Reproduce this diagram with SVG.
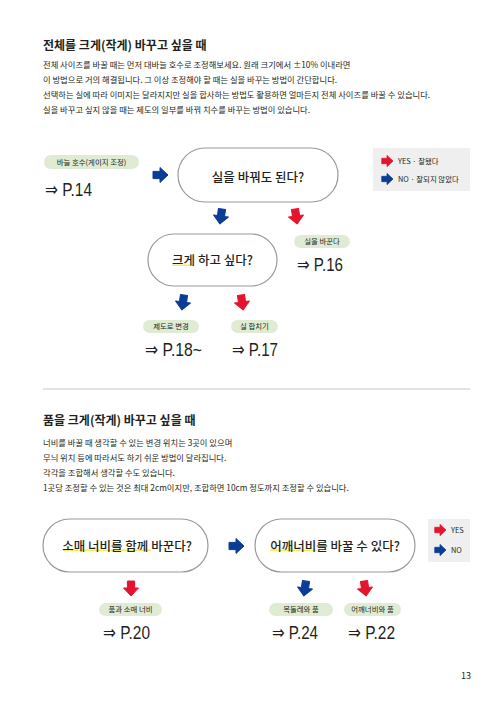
<svg xmlns="http://www.w3.org/2000/svg" width="500" height="706" viewBox="0 0 500 706">
<style>
text{font-family:"Noto Sans CJK KR","Noto Sans",sans-serif;fill:#231f20}
.h{font-size:12px;font-weight:700}
.b{font-size:8.3px}
.node rect.box{fill:#fff;stroke:#9a9a9a;stroke-width:1.2}
.q{font-size:12.5px;font-weight:500;text-anchor:middle}
.pill rect{fill:#dfecd3}
.pill text{font-size:7.4px;text-anchor:middle}
.ref{font-family:"Liberation Sans Narrow","Liberation Sans","DejaVu Sans",sans-serif;font-size:19px}
.lg{font-size:7.4px}
.hl{fill:#f6ec5a}
.red{fill:#e5142e;stroke:#e5142e;stroke-width:1;stroke-linejoin:round}
.blue{fill:#0b3c96;stroke:#0b3c96;stroke-width:1;stroke-linejoin:round}
</style>
<defs>
<path id="ar" d="M-7,-3.6 H0 V-7.5 L8,0 L0,7.5 V3.6 H-7 Z"/>
</defs>
<rect width="500" height="706" fill="#fff"/>

<g id="section1-text">
<text class="h" x="43" y="50">전체를 크게(작게) 바꾸고 싶을 때</text>
<text class="b" x="43" y="68">전체 사이즈를 바꿀 때는 먼저 대바늘 호수로 조정해보세요. 원래 크기에서 ±10% 이내라면</text>
<text class="b" x="43" y="83">이 방법으로 거의 해결됩니다. 그 이상 조정해야 할 때는 실을 바꾸는 방법이 간단합니다.</text>
<text class="b" x="43" y="98">선택하는 실에 따라 이미지는 달라지지만 실을 합사하는 방법도 활용하면 얼마든지 전체 사이즈를 바꿀 수 있습니다.</text>
<text class="b" x="43" y="113">실을 바꾸고 싶지 않을 때는 제도의 일부를 바꿔 치수를 바꾸는 방법이 있습니다.</text>
</g>

<g id="legend1">
<rect x="373" y="148" width="97" height="43" fill="#efefef"/>
<use href="#ar" class="red" transform="translate(387,161) scale(0.75)"/>
<text class="lg" x="398" y="163.5">YES · 잘됐다</text>
<use href="#ar" class="blue" transform="translate(387,179) scale(0.75)"/>
<text class="lg" x="398" y="181.5">NO · 잘되지 않았다</text>
</g>

<g id="n-gauge">
<g class="pill"><rect x="44" y="155" width="95" height="14" rx="7"/><text x="91.5" y="164.7">바늘 호수(게이지 조정)</text></g>
<text class="ref" x="45" y="196" textLength="47" lengthAdjust="spacingAndGlyphs">⇒ P.14</text>
</g>

<g id="n-q1" class="node">
<rect class="box" x="178" y="148" width="160" height="54" rx="27"/>
<rect class="hl" x="213" y="181" width="9" height="1.5"/>
<text class="q" x="258" y="181.5">실을 바꿔도 된다?</text>
</g>

<g id="n-yarn">
<g class="pill"><rect x="294" y="235" width="56" height="13" rx="6.5"/><text x="322" y="244.3">실을 바꾼다</text></g>
<text class="ref" x="297" y="271" textLength="46" lengthAdjust="spacingAndGlyphs">⇒ P.16</text>
</g>

<g id="n-q2" class="node">
<rect class="box" x="148" y="234" width="129" height="52" rx="26"/>
<rect class="hl" x="172" y="264.5" width="22" height="1.5"/>
<text class="q" x="212.5" y="265">크게 하고 싶다?</text>
</g>

<g id="n-draft">
<g class="pill"><rect x="143" y="320" width="56" height="13" rx="6.5"/><text x="171" y="329.3">제도로 변경</text></g>
<text class="ref" x="145" y="356" textLength="57" lengthAdjust="spacingAndGlyphs">⇒ P.18~</text>
</g>

<g id="n-ply">
<g class="pill"><rect x="231" y="320" width="47" height="13" rx="6.5"/><text x="254.5" y="329.3">실 합치기</text></g>
<text class="ref" x="232" y="356" textLength="46" lengthAdjust="spacingAndGlyphs">⇒ P.17</text>
</g>

<line x1="43" y1="389" x2="470" y2="389" stroke="#c8c8c8" stroke-width="1.2"/>

<g id="section2-text">
<text class="h" x="43" y="425">품을 크게(작게) 바꾸고 싶을 때</text>
<text class="b" x="43" y="446">너비를 바꿀 때 생각할 수 있는 변경 위치는 3곳이 있으며</text>
<text class="b" x="43" y="461">무늬 위치 등에 따라서도 하기 쉬운 방법이 달라집니다.</text>
<text class="b" x="43" y="476">각각을 조합해서 생각할 수도 있습니다.</text>
<text class="b" x="43" y="491">1곳당 조정할 수 있는 것은 최대 2cm이지만, 조합하면 10cm 정도까지 조정할 수 있습니다.</text>
</g>

<g id="legend2">
<rect x="428" y="519" width="42" height="43" fill="#efefef"/>
<use href="#ar" class="red" transform="translate(440,530) scale(0.75)"/>
<text class="lg" x="451" y="532.5">YES</text>
<use href="#ar" class="blue" transform="translate(440,550) scale(0.75)"/>
<text class="lg" x="451" y="552.5">NO</text>
</g>

<g id="n-q3" class="node">
<rect class="box" x="43" y="519" width="165" height="53" rx="26.5"/>
<rect class="hl" x="63" y="549.5" width="88" height="1.5"/>
<text class="q" x="127" y="550.5">소매 너비를 함께 바꾼다?</text>
</g>

<g id="n-q4" class="node">
<rect class="box" x="255" y="519" width="160" height="53" rx="26.5"/>
<rect class="hl" x="270" y="549.5" width="46" height="1.5"/>
<text class="q" x="335" y="550.5">어깨너비를 바꿀 수 있다?</text>
</g>

<g id="n-sleeve">
<g class="pill"><rect x="99" y="603" width="63" height="13" rx="6.5"/><text x="130.5" y="612.3">품과 소매 너비</text></g>
<text class="ref" x="103" y="639" textLength="47" lengthAdjust="spacingAndGlyphs">⇒ P.20</text>
</g>

<g id="n-neck">
<g class="pill"><rect x="269" y="603" width="64" height="13" rx="6.5"/><text x="301" y="612.3">목둘레와 품</text></g>
<text class="ref" x="272" y="639" textLength="46" lengthAdjust="spacingAndGlyphs">⇒ P.24</text>
</g>

<g id="n-shoulder">
<g class="pill"><rect x="344" y="603" width="57" height="13" rx="6.5"/><text x="372.5" y="612.3">어깨너비와 품</text></g>
<text class="ref" x="348" y="639" textLength="47" lengthAdjust="spacingAndGlyphs">⇒ P.22</text>
</g>

<g id="connectors">
<use href="#ar" class="blue" transform="translate(160,175)"/>
<use href="#ar" class="blue" transform="translate(221,216) rotate(98)"/>
<use href="#ar" class="red" transform="translate(296,216) rotate(82)"/>
<use href="#ar" class="blue" transform="translate(183,302) rotate(98)"/>
<use href="#ar" class="red" transform="translate(242,302) rotate(82)"/>
<use href="#ar" class="blue" transform="translate(236,546)"/>
<use href="#ar" class="red" transform="translate(131,588) rotate(90)"/>
<use href="#ar" class="blue" transform="translate(305,588) rotate(98)"/>
<use href="#ar" class="red" transform="translate(365,588) rotate(82)"/>
</g>

<text x="466" y="679" font-size="9" text-anchor="middle">13</text>
</svg>
